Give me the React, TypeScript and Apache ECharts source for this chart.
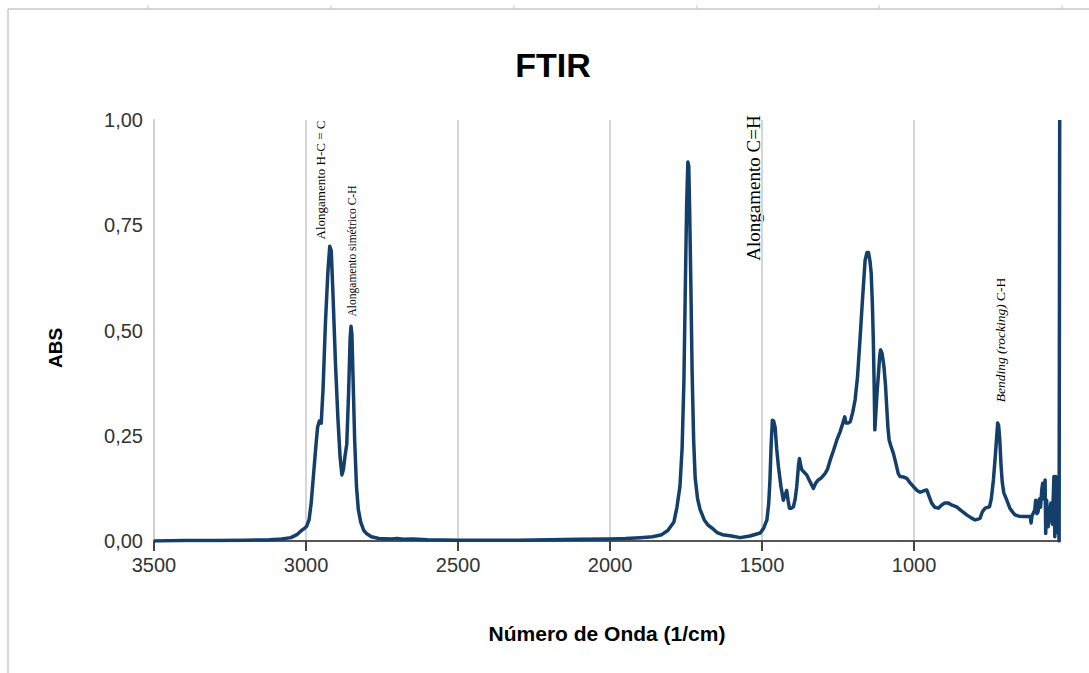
import React, { useEffect, useRef } from "react";
import * as echarts from "echarts";

// FTIR spectrum: wavenumber (1/cm) and absorbance
const wavenumbers = [
  3500, 3400, 3300, 3200, 3120, 3080, 3050, 3030, 3015, 3005, 2998, 2990, 2983, 2975, 2967, 2962,
  2956, 2950, 2944, 2936, 2928, 2922, 2917, 2911, 2903, 2895, 2888, 2882, 2877, 2872, 2866, 2860,
  2855, 2852, 2849, 2845, 2840, 2834, 2828, 2820, 2810, 2800, 2785, 2760, 2720, 2700, 2680, 2650,
  2600, 2500, 2400, 2300, 2200, 2100, 2000, 1950, 1900, 1860, 1830, 1810, 1790, 1780, 1770, 1763,
  1757, 1752, 1748, 1744, 1741, 1738, 1734, 1730, 1725, 1720, 1712, 1704, 1690, 1678, 1660, 1648,
  1630, 1600, 1572, 1540, 1506, 1495, 1484, 1478, 1474, 1470, 1466, 1462, 1457, 1452, 1446, 1438,
  1430, 1424, 1419, 1414, 1410, 1403, 1397, 1391, 1386, 1380, 1377, 1373, 1369, 1360, 1353, 1345,
  1338, 1331, 1323, 1315, 1305, 1293, 1285, 1276, 1265, 1254, 1243, 1233, 1228, 1224, 1217, 1210,
  1202, 1194, 1186, 1178, 1170, 1161, 1155, 1150, 1145, 1141, 1137, 1134, 1131, 1129, 1126, 1122,
  1117, 1113, 1110, 1105, 1099, 1094, 1090, 1086, 1082, 1076, 1068, 1060, 1052, 1046, 1035, 1024,
  1013, 1002, 990, 980, 975, 965, 958, 950, 942, 932, 920, 910, 900, 887, 875, 860,
  845, 827, 812, 799, 790, 783, 775, 766, 758, 752, 746, 739, 733, 728, 725, 722,
  718, 714, 710, 705, 695, 685, 675, 668, 655, 640, 628, 618, 615, 612, 608, 603,
  600, 596, 592, 588, 584, 580, 577, 573, 569, 567, 564, 559, 555, 550, 545, 540,
  537, 534, 530, 526, 523, 521, 521,
];

const absorbance = [
  0.0, 0.001, 0.001, 0.002, 0.003, 0.005, 0.008, 0.015, 0.025, 0.03, 0.035, 0.05, 0.09, 0.16, 0.23, 0.27,
  0.285, 0.28, 0.36, 0.52, 0.64, 0.7, 0.69, 0.58, 0.42, 0.29, 0.2, 0.157, 0.17, 0.2, 0.23, 0.35,
  0.48, 0.51, 0.49, 0.38, 0.24, 0.13, 0.075, 0.045, 0.025, 0.017, 0.01, 0.006, 0.005, 0.006, 0.004, 0.005,
  0.003, 0.002, 0.002, 0.002, 0.003, 0.004, 0.005, 0.006, 0.008, 0.01, 0.015, 0.025, 0.045, 0.08, 0.13, 0.22,
  0.38, 0.62, 0.8, 0.9, 0.89, 0.78, 0.6, 0.4, 0.24, 0.15, 0.1, 0.075, 0.05, 0.038, 0.028, 0.02,
  0.015, 0.012, 0.008, 0.012, 0.019, 0.03, 0.05, 0.09, 0.145, 0.23, 0.287, 0.285, 0.27, 0.22, 0.176, 0.13,
  0.097, 0.11, 0.12, 0.095, 0.078, 0.078, 0.081, 0.1, 0.129, 0.18, 0.196, 0.18, 0.169, 0.162, 0.157, 0.145,
  0.135, 0.125, 0.138, 0.145, 0.15, 0.16, 0.17, 0.192, 0.215, 0.24, 0.26, 0.283, 0.295, 0.28, 0.28, 0.283,
  0.305, 0.335, 0.39, 0.477, 0.57, 0.667, 0.685, 0.685, 0.665, 0.636, 0.56, 0.477, 0.36, 0.264, 0.3, 0.35,
  0.398, 0.44, 0.454, 0.445, 0.414, 0.37, 0.319, 0.27, 0.24, 0.225, 0.208, 0.185, 0.16, 0.153, 0.152, 0.149,
  0.138, 0.129, 0.12, 0.116, 0.117, 0.12, 0.121, 0.105, 0.09, 0.08, 0.078, 0.085, 0.09, 0.09, 0.085, 0.081,
  0.072, 0.062, 0.055, 0.05, 0.052, 0.054, 0.07, 0.078, 0.08, 0.081, 0.1, 0.145, 0.2, 0.25, 0.28, 0.275,
  0.24, 0.18, 0.14, 0.115, 0.097, 0.078, 0.068, 0.062, 0.059, 0.058, 0.058, 0.058, 0.043, 0.06, 0.066, 0.074,
  0.097, 0.065, 0.07, 0.1, 0.08, 0.121, 0.137, 0.1, 0.145, 0.018, 0.097, 0.034, 0.06, 0.09, 0.04, 0.153,
  0.01, 0.153, 0.02, 0.12, 0.0, 0.0, 1.0,
];

const yTicks = [0, 0.25, 0.5, 0.75, 1];

const LINE_COLOR = "#153f6b";
const SANS = "Liberation Sans, Arial, sans-serif";
const SERIF = "Liberation Serif, Times New Roman, serif";

export default function App() {
  const ref = useRef<HTMLDivElement>(null);

  useEffect(() => {
    if (!ref.current) return;
    const chart = echarts.init(ref.current, null, { renderer: "svg" });
    const data = wavenumbers.map((w, i) => [w, absorbance[i]]);

    const rulerTicks = [148, 331, 514, 697, 879, 1062].map((x) => ({
      type: "line",
      silent: true,
      shape: { x1: x, y1: 5, x2: x, y2: 9 },
      style: { stroke: "#c8c8c8", lineWidth: 1 },
    }));

    chart.setOption({
      animation: false,
      backgroundColor: "#ffffff",
      grid: { left: 154, right: 29, top: 120, bottom: 132 },
      xAxis: {
        type: "value",
        inverse: true,
        min: 520,
        max: 3500,
        splitNumber: 6,
        minInterval: 500,
        maxInterval: 500,
        axisLine: { show: true, onZero: false, lineStyle: { color: "#555555", width: 2 } },
        axisTick: { show: true, length: 10, lineStyle: { color: "#444444", width: 2 } },
        axisLabel: {
          showMinLabel: false,
          color: "#333333",
          fontFamily: SANS,
          fontSize: 20,
          margin: 14,
          formatter: (v: number) => String(Math.round(v)),
        },
        splitLine: { show: true, lineStyle: { color: "#d6d6d6", width: 2 } },
      },
      yAxis: {
        type: "value",
        min: yTicks[0],
        max: yTicks[yTicks.length - 1],
        interval: 0.25,
        axisLine: { show: true, lineStyle: { color: "#cfcfcf", width: 2 } },
        axisTick: { show: false },
        splitLine: { show: false },
        axisLabel: {
          color: "#333333",
          fontFamily: SANS,
          fontSize: 20,
          margin: 11,
          formatter: (v: number) => v.toFixed(2).replace(".", ","),
        },
      },
      series: [
        {
          type: "line",
          data,
          showSymbol: false,
          symbol: "none",
          lineStyle: { color: LINE_COLOR, width: 3.5, join: "round" },
          z: 3,
        },
      ],
      graphic: [
        // frame of the sheet
        {
          type: "line",
          silent: true,
          shape: { x1: 8, y1: 9, x2: 1089, y2: 9 },
          style: { stroke: "#c8c8c8", lineWidth: 1.5 },
        },
        {
          type: "line",
          silent: true,
          shape: { x1: 8, y1: 9, x2: 8, y2: 673 },
          style: { stroke: "#c8c8c8", lineWidth: 1.5 },
        },
        ...rulerTicks,
        {
          type: "text",
          x: 553,
          y: 65,
          style: {
            text: "FTIR",
            font: `bold 34px ${SANS}`,
            fill: "#000000",
            align: "center",
            verticalAlign: "middle",
          },
        },
        {
          type: "text",
          x: 55,
          y: 348,
          rotation: Math.PI / 2,
          style: {
            text: "ABS",
            font: `bold 19px ${SANS}`,
            fill: "#000000",
            align: "center",
            verticalAlign: "middle",
          },
        },
        {
          type: "text",
          x: 607,
          y: 633,
          style: {
            text: "Número de Onda (1/cm)",
            font: `bold 21px ${SANS}`,
            fill: "#000000",
            align: "center",
            verticalAlign: "middle",
          },
        },
        {
          type: "text",
          x: 320,
          y: 180,
          rotation: Math.PI / 2,
          style: {
            text: "Alongamento H-C = C",
            font: `13px ${SERIF}`,
            fill: "#000000",
            align: "center",
            verticalAlign: "middle",
          },
        },
        {
          type: "text",
          x: 352,
          y: 251,
          rotation: Math.PI / 2,
          style: {
            text: "Alongamento simétrico C-H",
            font: `11.5px ${SERIF}`,
            fill: "#000000",
            align: "center",
            verticalAlign: "middle",
          },
        },
        {
          type: "rect",
          silent: true,
          shape: { x: 741, y: 112, width: 26, height: 150 },
          style: { fill: "#ffffff" },
        },
        {
          type: "text",
          x: 753,
          y: 188,
          rotation: Math.PI / 2,
          style: {
            text: "Alongamento C=H",
            font: `19px ${SERIF}`,
            fill: "#000000",
            align: "center",
            verticalAlign: "middle",
          },
        },
        {
          type: "text",
          x: 1000,
          y: 340,
          rotation: Math.PI / 2,
          style: {
            text: "{i|Bending (rocking)} C-H",
            font: `13.5px ${SERIF}`,
            fill: "#000000",
            align: "center",
            verticalAlign: "middle",
            rich: {
              i: { fontStyle: "italic", fontFamily: SERIF, fontSize: 13.5, fill: "#000000" },
            },
          },
        },
      ],
    });

    return () => chart.dispose();
  }, []);

  return (
    <div
      ref={ref}
      style={{ position: "absolute", left: 0, top: 0, width: 1089, height: 673, background: "#fff" }}
    />
  );
}
